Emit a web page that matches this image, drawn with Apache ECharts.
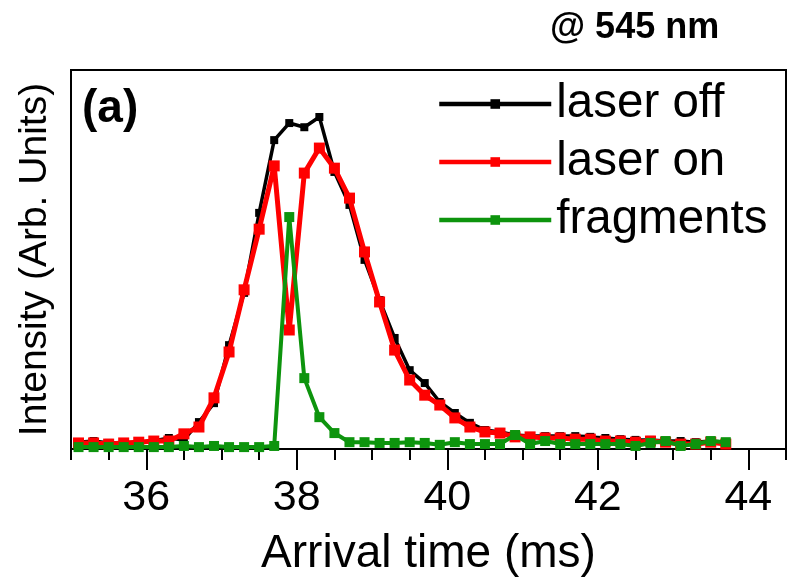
<!DOCTYPE html>
<html><head><meta charset="utf-8">
<script src="https://cdn.jsdelivr.net/npm/echarts@6/dist/echarts.min.js"></script>
<style>html,body{margin:0;padding:0;background:#fff}#c{width:788px;height:582px}</style>
</head><body><div id="c"></div>
<script>
const arrivalTime = [35.1,35.3,35.5,35.7,35.9,36.1,36.3,36.5,36.7,36.9,37.1,37.3,37.5,37.7,37.9,38.1,38.3,38.5,38.7,38.9,39.1,39.3,39.5,39.7,39.9,40.1,40.3,40.5,40.7,40.9,41.1,41.3,41.5,41.7,41.9,42.1,42.3,42.5,42.7,42.9,43.1,43.3,43.5,43.7];
const laserOff = [1.8,2.1,1.6,1.6,1.8,2.1,2.9,2.4,7.1,12.1,27.4,41.2,62.3,81.5,86.0,84.9,87.6,73.1,64.4,49.9,39.3,29.3,20.8,17.4,12.4,9.5,6.9,5.0,4.5,3.7,3.4,3.4,3.4,3.4,3.2,2.9,2.6,2.4,2.4,2.1,2.1,1.8,2.1,1.8];
const laserOn = [1.6,1.6,1.3,1.6,1.8,2.1,2.1,4.0,5.8,13.5,25.6,42.0,58.0,74.7,31.4,72.8,79.4,74.1,66.2,52.0,38.8,26.1,18.2,14.2,11.6,8.2,5.8,4.5,4.2,3.2,3.2,2.9,2.9,2.6,2.6,2.1,2.1,1.8,2.1,1.8,1.3,1.3,1.8,1.3];
const fragments = [0.5,0.5,0.5,0.5,0.5,0.5,0.5,0.8,0.5,0.8,0.5,0.5,0.5,0.8,61.2,18.7,8.4,4.2,1.8,1.8,1.6,1.6,1.8,1.6,1.1,1.8,1.3,1.3,1.3,3.7,1.3,2.1,1.3,1.3,1.3,1.3,1.3,0.8,1.6,2.1,0.8,1.3,2.1,1.8];
const tickValues = [35,35.5,36,36.5,37,37.5,38,38.5,39,39.5,40,40.5,41,41.5,42,42.5,43,43.5,44,44.5];
const tickLabels = [36,38,40,42,44];

const FONT = 'Liberation Sans, Arial, sans-serif';
const pairs = ys => arrivalTime.map((x, i) => [x, ys[i]]);
const isMajor = (i, v) => tickLabels.includes(Number(v));

const chart = echarts.init(document.getElementById('c'), null, {renderer: 'canvas'});
chart.setOption({
  animation: false,
  backgroundColor: '#fff',
  title: [
    {text: '@ 545 nm', left: 550, top: 10, padding: 0,
     textStyle: {fontFamily: FONT, fontWeight: 'bold', fontSize: 36, color: '#000'}},
    {text: '(a)', left: 82, top: 86, padding: 0,
     textStyle: {fontFamily: FONT, fontWeight: 'bold', fontSize: 46, color: '#000'}}
  ],
  grid: {left: 71, right: 2, top: 70, bottom: 133, show: true, borderColor: '#000', borderWidth: 2, containLabel: false},
  legend: {
    orient: 'vertical', left: 437, top: 80, padding: 0,
    itemWidth: 112, itemHeight: 12, itemGap: 10,
    lineStyle: {width: 4.5},
    textStyle: {fontFamily: FONT, fontSize: 47.5, color: '#000', lineHeight: 47},
    data: ['laser off', 'laser on', 'fragments']
  },
  xAxis: [
    {type: 'value', min: 35, max: 44.5, interval: 0.5, position: 'bottom',
     axisLine: {show: true, lineStyle: {color: '#000', width: 2}},
     axisTick: {show: true, inside: false, length: 11, lineStyle: {color: '#000', width: 2}},
     axisLabel: {show: false}, splitLine: {show: false},
     name: 'Arrival time (ms)', nameLocation: 'middle', nameGap: 82,
     nameTextStyle: {fontFamily: FONT, fontSize: 46, color: '#000'}},
    {type: 'category', data: tickValues.map(String), boundaryGap: false, position: 'bottom',
     axisLine: {show: false},
     axisTick: {show: true, inside: false, length: 21, interval: isMajor, lineStyle: {color: '#000', width: 2}},
     axisLabel: {show: true, interval: isMajor, margin: 28, fontFamily: FONT, fontSize: 43, color: '#000'},
     splitLine: {show: false}}
  ],
  yAxis: {
    type: 'value', min: 0, max: 100,
    axisLine: {show: true, lineStyle: {color: '#000', width: 2}},
    axisTick: {show: false}, axisLabel: {show: false}, splitLine: {show: false},
    name: 'Intensity (Arb. Units)', nameLocation: 'middle', nameGap: 16,
    nameTextStyle: {fontFamily: FONT, fontSize: 39, color: '#000'}
  },
  series: [
    {name: 'laser off', type: 'line', xAxisIndex: 0, data: pairs(laserOff),
     symbol: 'rect', symbolSize: 8, showAllSymbol: true,
     lineStyle: {color: '#000', width: 3.5}, itemStyle: {color: '#000'}, z: 2},
    {name: 'laser on', type: 'line', xAxisIndex: 0, data: pairs(laserOn),
     symbol: 'rect', symbolSize: 11, showAllSymbol: true,
     lineStyle: {color: '#ff0000', width: 5}, itemStyle: {color: '#ff0000'}, z: 3},
    {name: 'fragments', type: 'line', xAxisIndex: 0, data: pairs(fragments),
     symbol: 'rect', symbolSize: 10, showAllSymbol: true,
     lineStyle: {color: '#0d940d', width: 4}, itemStyle: {color: '#0d940d'}, z: 4}
  ]
});
</script></body></html>
